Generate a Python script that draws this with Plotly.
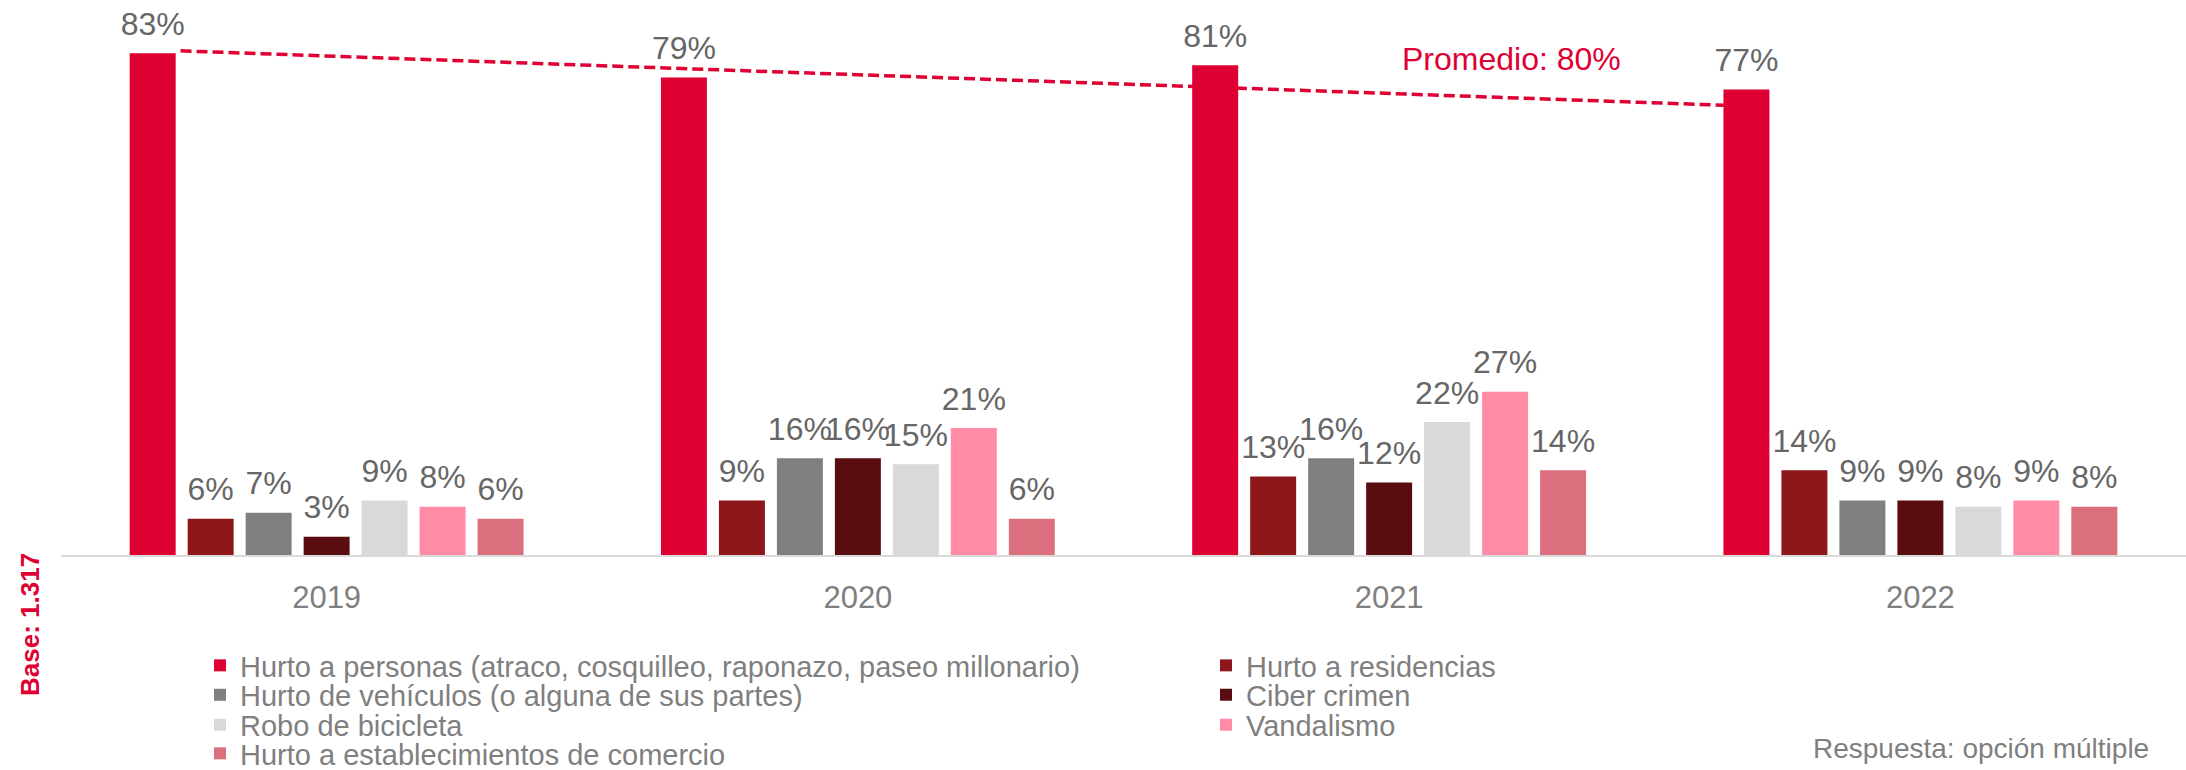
import plotly.graph_objects as go

years = ["2019", "2020", "2021", "2022"]
series_names = [
    "Hurto a personas (atraco, cosquilleo, raponazo, paseo millonario)",
    "Hurto a residencias",
    "Hurto de vehículos (o alguna de sus partes)",
    "Ciber crimen",
    "Robo de bicicleta",
    "Vandalismo",
    "Hurto a establecimientos de comercio",
]
hurto_personas = [83, 79, 81, 77]
hurto_residencias = [6, 9, 13, 14]
hurto_vehiculos = [7, 16, 16, 9]
ciber_crimen = [3, 16, 12, 9]
robo_bicicleta = [9, 15, 22, 8]
vandalismo = [8, 21, 27, 9]
hurto_comercio = [6, 6, 14, 8]
series_values = [hurto_personas, hurto_residencias, hurto_vehiculos, ciber_crimen,
                 robo_bicicleta, vandalismo, hurto_comercio]
colors = ["#DE0033", "#8E171A", "#7F7F7F", "#5A0D10", "#D9D9D9", "#FF8BA5", "#DB6F7D"]

# dashed "Promedio" trend line, on a numeric overlay axis
trend_x = [-0.275, 2.63]
trend_y = [83.4, 74.4]
promedio_text = "Promedio: 80%"

W, H = 2186, 770
ML, MR, MT, MB = 61, 0, 0, 215
plot_w = W - ML - MR
plot_h = H - MT - MB
Y_TOP = plot_h / 6.045
LABEL_LIFT = 1.4  # extra gap between bar top and its label, in axis units

def px_x(p):
    return (p - ML) / plot_w

def px_y(p):
    return (H - MB - p) / plot_h

# legend layout: 2 columns, row-major order
legend_cols_px = [200, 1206]
legend_rows_px = [665.5, 695, 725, 753.5]

FONT = "Arial, Liberation Sans, sans-serif"
fig = go.Figure()
for i, (name, vals, col) in enumerate(zip(series_names, series_values, colors)):
    lg = "legend" if i == 0 else f"legend{i + 1}"
    fig.add_trace(go.Bar(
        x=years, y=vals, name=name, marker=dict(color=col, line=dict(width=0)),
        legend=lg, hoverinfo="skip",
    ))
# value labels: same bars on a lifted overlay axis, transparent, text outside
for name, vals in zip(series_names, series_values):
    fig.add_trace(go.Bar(
        x=years, y=vals, name=name, yaxis="y2",
        marker=dict(color="rgba(0,0,0,0)", line=dict(width=0)),
        text=[f"{v}%" for v in vals], textposition="outside", constraintext="none",
        cliponaxis=False, textfont=dict(size=32, color="#666666", family=FONT),
        showlegend=False, hoverinfo="skip",
    ))

fig.add_trace(go.Scatter(
    x=trend_x, y=trend_y, mode="lines", xaxis="x2", yaxis="y",
    line=dict(color="#DE0033", width=3.5, dash="11px,5px"),
    showlegend=False, hoverinfo="skip",
))

legend_common = dict(
    orientation="v", xanchor="left", yanchor="middle",
    font=dict(family=FONT, size=29, color="#7F7F7F"),
    bgcolor="rgba(0,0,0,0)", itemclick=False, itemdoubleclick=False,
)
legends = {}
for i in range(len(series_names)):
    key = "legend" if i == 0 else f"legend{i + 1}"
    r, c = divmod(i, 2)
    legends[key] = dict(x=px_x(legend_cols_px[c]), y=px_y(legend_rows_px[r]), **legend_common)

fig.update_layout(
    width=W, height=H,
    margin=dict(l=ML, r=MR, t=MT, b=MB, pad=0, autoexpand=False),
    paper_bgcolor="white", plot_bgcolor="white",
    barmode="group", bargap=0.236, bargroupgap=0.207,
    font=dict(family=FONT, color="#7F7F7F"),
    xaxis=dict(type="category", showgrid=False, showline=True, linecolor="#D9D9D9",
               linewidth=2, ticks="", tickfont=dict(size=31, color="#7F7F7F"),
               ticklabelstandoff=14, zeroline=False),
    xaxis2=dict(overlaying="x", range=[-0.5, 3.5], visible=False, showgrid=False),
    yaxis=dict(range=[0, Y_TOP], visible=False, showgrid=False, zeroline=False),
    yaxis2=dict(overlaying="y", range=[-LABEL_LIFT, Y_TOP - LABEL_LIFT], visible=False,
                showgrid=False, zeroline=False),
    showlegend=True,
    **legends,
)

fig.add_annotation(
    x=2.23, y=82, xref="x2", yref="y", text=promedio_text, showarrow=False,
    font=dict(size=32, color="#DE0033", family=FONT), xanchor="center", yanchor="middle",
)
fig.add_annotation(
    x=px_x(30), y=px_y(625), xref="paper", yref="paper", text="<b>Base: 1.317</b>",
    textangle=-90, showarrow=False, font=dict(size=26, color="#DE0033", family=FONT),
    xanchor="center", yanchor="middle",
)
fig.add_annotation(
    x=px_x(2151), y=px_y(748), xref="paper", yref="paper", text="Respuesta: opción múltiple",
    showarrow=False, font=dict(size=28, color="#7F7F7F", family=FONT), xanchor="right",
    yanchor="middle",
)

fig.write_html("out.html", config={"displayModeBar": False},
               post_script="document.body.style.margin='0';")
